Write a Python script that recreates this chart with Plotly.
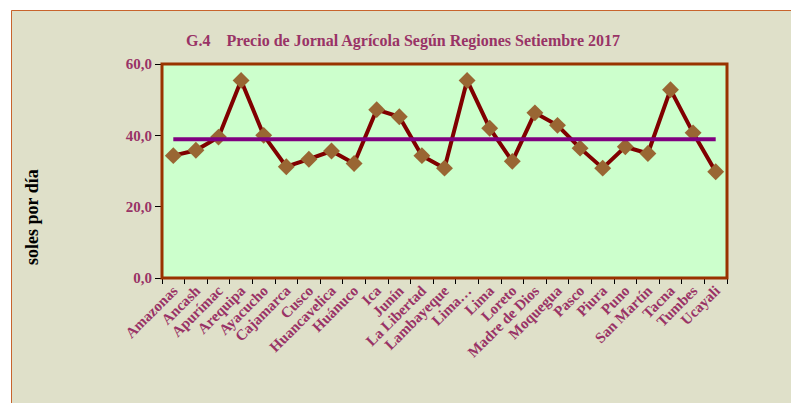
import plotly.graph_objects as go

regiones = ["Amazonas", "Ancash", "Apurímac", "Arequipa", "Ayacucho", "Cajamarca",
            "Cusco", "Huancavelica", "Huánuco", "Ica", "Junín", "La Libertad",
            "Lambayeque", "Lima…", "Lima", "Loreto", "Madre de Dios", "Moquegua",
            "Pasco", "Piura", "Puno", "San Martín", "Tacna", "Tumbes", "Ucayali"]
precio = [34.3, 35.8, 39.5, 55.4, 40.0, 31.2, 33.3, 35.6, 32.1, 47.2, 45.2, 34.3,
          30.8, 55.4, 42.0, 32.7, 46.3, 42.8, 36.4, 30.8, 36.8, 34.9, 52.8, 40.7, 29.8]
promedio = [38.9] * len(regiones)
y_ticks = [0, 20, 40, 60]
y_ticktext = ["0,0", "20,0", "40,0", "60,0"]

TXT = "#993366"
FONT = "Liberation Serif"

# page has an 8px body margin; figure is placed at (8,8)
OFF = 8
FW, FH = 799 - OFF, 403 - OFF

fig = go.Figure()
fig.add_trace(go.Scatter(x=regiones, y=precio, mode="lines+markers",
                         line=dict(color="#800000", width=4),
                         marker=dict(symbol="diamond", size=13, color="#996633"),
                         cliponaxis=False))
fig.add_trace(go.Scatter(x=regiones, y=promedio, mode="lines",
                         line=dict(color="#800080", width=4)))

L, R, T, B = 162 - OFF, 727 - OFF, 64 - OFF, 278 - OFF
W, H = R - L, B - T
def px(x):
    return (x - OFF - L) / W
def py(y):
    return (B - (y - OFF)) / H

fig.update_layout(
    width=FW, height=FH,
    margin=dict(l=L, r=FW - R, t=T, b=FH - B, pad=0),
    paper_bgcolor="#DFE0C9",
    plot_bgcolor="#CCFFCC",
    showlegend=False,
    font=dict(family=FONT, color=TXT),
    title=dict(text="<b>G.4\u00a0\u00a0\u00a0\u00a0Precio de Jornal Agrícola Según Regiones Setiembre 2017</b>",
               x=(403 - OFF) / FW, xanchor="center", y=1 - (40 - OFF) / FH, yanchor="middle",
               font=dict(family=FONT, size=16, color=TXT)),
    xaxis=dict(type="category", range=[-0.5, len(regiones) - 0.5],
               tickvals=regiones, ticktext=["<b>%s</b>" % r for r in regiones],
               tickson="boundaries", ticks="outside", ticklen=5, tickcolor="#000000",
               tickwidth=1, tickangle=-45, showgrid=False, showline=False,
               tickfont=dict(family=FONT, size=15, color=TXT)),
    yaxis=dict(range=[0, 60], tickvals=y_ticks,
               ticktext=["<b>%s</b>" % t for t in y_ticktext],
               ticks="outside", ticklen=6, tickcolor="#000000", tickwidth=1,
               showgrid=False, showline=False, zeroline=False,
               tickfont=dict(family=FONT, size=15, color=TXT)),
    shapes=[
        dict(type="rect", xref="paper", yref="paper", x0=px(0), x1=px(799),
             y0=py(10), y1=py(0), fillcolor="#FFFFFF", line=dict(width=0), layer="below"),
        dict(type="rect", xref="paper", yref="paper", x0=px(0), x1=px(11),
             y0=py(410), y1=py(0), fillcolor="#FFFFFF", line=dict(width=0), layer="below"),
        dict(type="rect", xref="paper", yref="paper", x0=px(11.5), x1=px(798),
             y0=py(420), y1=py(10.5), line=dict(color="#C8642D", width=1), layer="below"),
        dict(type="rect", xref="paper", yref="paper", x0=0, x1=1, y0=0, y1=1,
             line=dict(color="#993300", width=3), layer="above"),
    ],
)
fig.add_annotation(text="<b>soles por día</b>", xref="paper", yref="paper",
                   x=px(32), y=py(217), xanchor="center", yanchor="middle",
                   textangle=-90, showarrow=False,
                   font=dict(family=FONT, size=18, color="#000000"))
fig.write_html("out.html")
